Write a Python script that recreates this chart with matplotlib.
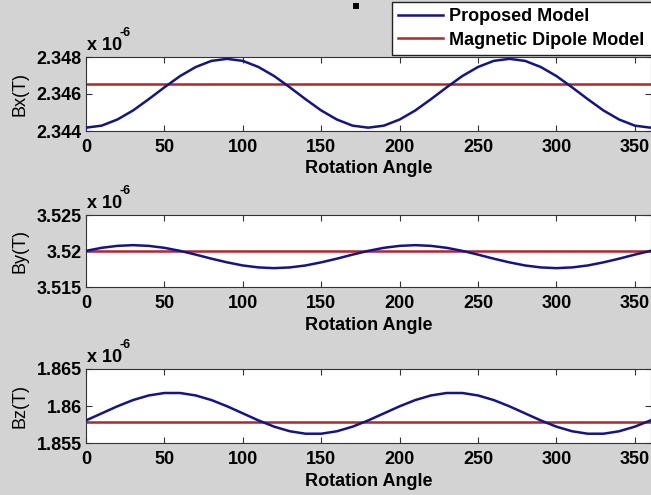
import matplotlib
matplotlib.use("Agg")
import matplotlib.pyplot as plt
from matplotlib.patches import Rectangle

# ---------------- data (values in units of 1e-6 T) ----------------
angle = [0, 10, 20, 30, 40, 50, 60, 70, 80, 90, 100, 110, 120, 130, 140, 150, 160, 170, 180,
         190, 200, 210, 220, 230, 240, 250, 260, 270, 280, 290, 300, 310, 320, 330, 340, 350, 360]

bx_proposed = [2.34418, 2.34429, 2.34462, 2.34511, 2.34572, 2.34636, 2.34697, 2.34746, 2.34779, 2.34790,
               2.34779, 2.34746, 2.34697, 2.34636, 2.34572, 2.34511, 2.34462, 2.34429, 2.34418,
               2.34429, 2.34462, 2.34511, 2.34572, 2.34636, 2.34697, 2.34746, 2.34779, 2.34790,
               2.34779, 2.34746, 2.34697, 2.34636, 2.34572, 2.34511, 2.34462, 2.34429, 2.34418]
by_proposed = [3.52004, 3.52046, 3.52073, 3.52083, 3.52073, 3.52046, 3.52004, 3.51952, 3.51896, 3.51845,
               3.51802, 3.51775, 3.51765, 3.51775, 3.51802, 3.51845, 3.51896, 3.51952, 3.52004,
               3.52046, 3.52073, 3.52083, 3.52073, 3.52046, 3.52004, 3.51952, 3.51896, 3.51845,
               3.51802, 3.51775, 3.51765, 3.51775, 3.51802, 3.51845, 3.51896, 3.51952, 3.52004]
bz_proposed = [1.85808, 1.85903, 1.85998, 1.86082, 1.86144, 1.86177, 1.86177, 1.86144, 1.86082, 1.85998,
               1.85903, 1.85808, 1.85724, 1.85662, 1.85629, 1.85629, 1.85662, 1.85724, 1.85808,
               1.85903, 1.85998, 1.86082, 1.86144, 1.86177, 1.86177, 1.86144, 1.86082, 1.85998,
               1.85903, 1.85808, 1.85724, 1.85662, 1.85629, 1.85629, 1.85662, 1.85724, 1.85808]

bx_dipole = 2.34655
by_dipole = 3.52000
bz_dipole = 1.85787

x_ticks = [0, 50, 100, 150, 200, 250, 300, 350]
bx_ticks = [2.344, 2.346, 2.348]
by_ticks = [3.515, 3.52, 3.525]
bz_ticks = [1.855, 1.86, 1.865]
bx_ticklabels = ["2.344", "2.346", "2.348"]
by_ticklabels = ["3.515", "3.52", "3.525"]
bz_ticklabels = ["1.855", "1.86", "1.865"]
ylabels = ["Bx(T)", "By(T)", "Bz(T)"]
xlabel = "Rotation Angle"
legend_labels = ["Proposed Model", "Magnetic Dipole Model"]

# ---------------- style ----------------
W, H = 651, 495
DPI = 100
plt.rcParams['font.family'] = ['Liberation Sans', 'DejaVu Sans']
BG = '#d3d3d3'
BLUE = '#14148a'
RED = '#b02828'
FS = 13

fig = plt.figure(figsize=(W / DPI, H / DPI), dpi=DPI, facecolor=BG)


def px_axes(left, top, right, bottom):
    return fig.add_axes([left / W, 1 - bottom / H, (right - left) / W, (bottom - top) / H])


panels = [
    ((86, 57, 650.5, 131), bx_proposed, bx_dipole, bx_ticks, bx_ticklabels, ylabels[0]),
    ((86, 215, 650.5, 287.3), by_proposed, by_dipole, by_ticks, by_ticklabels, ylabels[1]),
    ((86, 369, 650.5, 443.3), bz_proposed, bz_dipole, bz_ticks, bz_ticklabels, ylabels[2]),
]

axes = []
for (box, prop, dip, yt, ytl, yl) in panels:
    ax = px_axes(*box)
    ax.set_facecolor('white')
    l1, = ax.plot(angle, prop, color=BLUE, lw=1.8, zorder=3)
    l2, = ax.plot(angle, [dip] * len(angle), color=RED, lw=1.8, zorder=2)
    ax.set_xlim(0, 360)
    ax.set_ylim(yt[0], yt[-1])
    ax.set_xticks(x_ticks)
    ax.set_xticklabels([str(v) for v in x_ticks], fontsize=FS, fontweight='bold')
    ax.set_yticks(yt)
    ax.set_yticklabels(ytl, fontsize=FS, fontweight='bold')
    ax.tick_params(direction='in', length=4, width=0.8, color='#333333',
                   top=True, right=True, pad=3)
    ax.tick_params(axis='x', pad=5.5)
    for s in ax.spines.values():
        s.set_color('#333333')
        s.set_linewidth(0.8)
    ax.set_xlabel(xlabel, fontsize=FS, fontweight='bold', labelpad=3.5)
    ax.set_ylabel(yl, fontsize=FS, labelpad=6)
    axes.append((ax, l1, l2))

# multiplier text (pixel-based)
for (box, *_rest) in panels:
    left, top = box[0], box[1]
    fig.text((left + 1) / W, 1 - (top - 12) / H, "x 10", fontsize=FS, fontweight='bold',
             ha='left', va='center')
    fig.text((left + 33) / W, 1 - (top - 24) / H, "-6", fontsize=9, fontweight='bold',
             ha='left', va='center')

ax1, l1, l2 = axes[0]
leg = fig.legend([l1, l2], legend_labels, loc='lower left',
                 bbox_to_anchor=(392 / W, 1 - 55 / H, 280 / W, 60 / H), mode='expand',
                 borderaxespad=0, prop={'size': FS, 'weight': 'bold'},
                 handlelength=2.5, handletextpad=0.3, labelspacing=0.35,
                 borderpad=0.35, fancybox=False, framealpha=1, edgecolor='#222222')
leg.get_frame().set_linewidth(1.0)

# small black marker square near top
fig.patches.append(Rectangle((353 / W, 1 - 9 / H), 6 / W, 6 / H, transform=fig.transFigure,
                             facecolor='black', edgecolor='none'))

fig.savefig('out.png', dpi=DPI, facecolor=BG)
